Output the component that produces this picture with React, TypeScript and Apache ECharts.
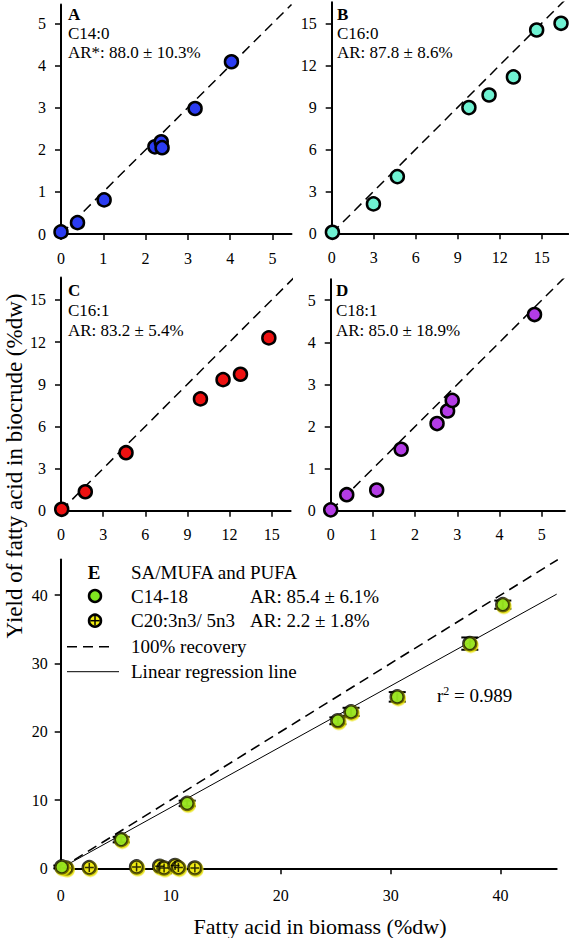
import React, { useEffect, useRef } from "react";
import * as echarts from "echarts";

const FONT = "Liberation Serif";

// Panel A: C14:0
const aBiomass = [0.0, 0.39, 1.02, 2.22, 2.37, 2.39, 3.17, 4.03];
const aBiocrude = [0.05, 0.27, 0.81, 2.07, 2.19, 2.05, 2.98, 4.09];
// Panel B: C16:0
const bBiomass = [0.05, 2.98, 4.69, 9.8, 11.24, 12.98, 14.64, 16.38];
const bBiocrude = [0.07, 2.1, 4.05, 8.98, 9.88, 11.17, 14.52, 15.0];
// Panel C: C16:1
const cBiomass = [0.05, 1.73, 4.63, 9.93, 11.54, 12.78, 14.8];
const cBiocrude = [0.1, 1.35, 4.13, 7.96, 9.33, 9.71, 12.3];
// Panel D: C18:1
const dBiomass = [0.0, 0.38, 1.09, 1.67, 2.52, 2.77, 2.88, 4.83];
const dBiocrude = [0.02, 0.38, 0.49, 1.46, 2.07, 2.37, 2.62, 4.66];
// Panel E: C14-18 (with error)
const eC1418Biomass = [0.1, 5.5, 11.5, 25.2, 26.4, 30.6, 37.2, 40.2];
const eC1418Biocrude = [0.2, 4.2, 9.5, 21.6, 22.9, 25.1, 32.9, 38.6];
const eC1418Err = [0.2, 0.4, 0.4, 0.5, 0.6, 0.7, 0.9, 0.6];
// Panel E: C20:3n3/5n3
const eC20Biomass = [0.5, 2.6, 6.9, 9.0, 9.4, 10.4, 10.7, 12.2];
const eC20Biocrude = [0.05, 0.1, 0.2, 0.3, 0.05, 0.4, 0.1, 0.05];

// Regression line (panel E)
const regSlope = 0.89;
const regIntercept = 0.0;

// Tick labels
const ticks0to5 = [0, 1, 2, 3, 4, 5];
const ticks0to15 = [0, 3, 6, 9, 12, 15];
const ticks0to40 = [0, 10, 20, 30, 40];

// Axis extents
const aMaxX = 5.45, aMaxY = 5.45;
const bMaxX = 16.9, bMaxY = 16.5;
const cMaxX = 16.35, cMaxY = 16.6;
const dMaxX = 5.55, dMaxY = 5.5;
const eMaxX = 45.1, eMaxY = 45.2;

const colA = "#2b3cf2";
const colB = "#6ff2d2";
const colC = "#ee1111";
const colD = "#b43ce6";
const colGreen = "#80e620";
const colYellow = "#f2ee10";

function zip(xs: number[], ys: number[]) {
  return xs.map((x, i) => [x, ys[i]]);
}

function makeAxis(gridIndex: number, max: number, ticks: number[], fontSize: number, margin: number) {
  return {
    gridIndex,
    type: "value",
    min: 0,
    max,
    axisLine: { show: true, onZero: false, lineStyle: { color: "#000", width: 2 } },
    axisTick: { show: true, length: 6, lineStyle: { color: "#000", width: 1.5 }, customValues: ticks },
    axisLabel: { customValues: ticks, color: "#000", fontFamily: FONT, fontSize, margin },
    splitLine: { show: false },
  };
}

function recovery(idx: number, m: number, width = 1.5) {
  return {
    type: "line",
    xAxisIndex: idx,
    yAxisIndex: idx,
    data: [[0, 0], [m, m]],
    symbol: "none",
    clip: true,
    silent: true,
    lineStyle: { color: "#000", width, type: [10, 6] },
    z: 2,
  };
}

function scatter(idx: number, xs: number[], ys: number[], color: string) {
  return {
    type: "scatter",
    xAxisIndex: idx,
    yAxisIndex: idx,
    data: zip(xs, ys),
    symbol: "circle",
    symbolSize: 13,
    itemStyle: { color, borderColor: "#000", borderWidth: 2.5, opacity: 1 },
    z: 5,
  };
}

function txt(x: number, y: number, text: string, size = 17, bold = false, align = "left") {
  const style: any = {
    text,
    fill: "#000",
    fontFamily: FONT,
    fontSize: size,
    align,
    verticalAlign: "middle",
  };
  if (bold) style.fontWeight = "bold";
  return { type: "text", x, y, style, z: 20 };
}

export default function App() {
  const ref = useRef<HTMLDivElement>(null);
  useEffect(() => {
    if (!ref.current) return;
    const chart = echarts.init(ref.current, null, { renderer: "svg" });
    const errData = eC1418Biomass.map((x, i) => [x, eC1418Biocrude[i], eC1418Err[i]]);
    const option: any = {
      animation: false,
      backgroundColor: "#fff",
      textStyle: { fontFamily: FONT },
      grid: [
        { left: 61, top: 4.5, width: 230.5, height: 229.5 },
        { left: 331.7, top: 2.3, width: 236.6, height: 231 },
        { left: 61, top: 277.5, width: 229.6, height: 233.2 },
        { left: 330.7, top: 279.2, width: 234.2, height: 231.5 },
        { left: 60.7, top: 559.6, width: 496, height: 308.7 },
      ],
      xAxis: [
        makeAxis(0, aMaxX, ticks0to5, 16, 16),
        makeAxis(1, bMaxX, ticks0to15, 16, 16),
        makeAxis(2, cMaxX, ticks0to15, 16, 16),
        makeAxis(3, dMaxX, ticks0to5, 16, 16),
        makeAxis(4, eMaxX, ticks0to40, 16, 19),
      ],
      yAxis: [
        makeAxis(0, aMaxY, ticks0to5, 16, 15),
        makeAxis(1, bMaxY, ticks0to15, 16, 15),
        makeAxis(2, cMaxY, ticks0to15, 16, 15),
        makeAxis(3, dMaxY, ticks0to5, 16, 15),
        makeAxis(4, eMaxY, ticks0to40, 16, 13),
      ],
      series: [
        recovery(0, Math.max(aMaxX, aMaxY)),
        scatter(0, aBiomass, aBiocrude, colA),
        recovery(1, Math.max(bMaxX, bMaxY)),
        scatter(1, bBiomass, bBiocrude, colB),
        recovery(2, Math.max(cMaxX, cMaxY)),
        scatter(2, cBiomass, cBiocrude, colC),
        recovery(3, Math.max(dMaxX, dMaxY)),
        scatter(3, dBiomass, dBiocrude, colD),
        recovery(4, Math.max(eMaxX, eMaxY), 1.6),
        {
          type: "line",
          xAxisIndex: 4,
          yAxisIndex: 4,
          data: [[0, regIntercept], [eMaxX, regIntercept + regSlope * eMaxX]],
          symbol: "none",
          clip: true,
          silent: true,
          lineStyle: { color: "#000", width: 1 },
          z: 2,
        },
        {
          type: "custom",
          xAxisIndex: 4,
          yAxisIndex: 4,
          data: errData,
          encode: { x: 0, y: 1 },
          z: 3,
          renderItem: (params: any, api: any) => {
            const x = api.value(0);
            const y = api.value(1);
            const e = api.value(2);
            const top = api.coord([x, y + e]);
            const bot = api.coord([x, y - e]);
            const hw = 8.5;
            const st = { stroke: "#000", lineWidth: 2 };
            return {
              type: "group",
              children: [
                { type: "line", shape: { x1: top[0], y1: top[1], x2: bot[0], y2: bot[1] }, style: st },
                { type: "line", shape: { x1: top[0] - hw, y1: top[1], x2: top[0] + hw, y2: top[1] }, style: st },
                { type: "line", shape: { x1: bot[0] - hw, y1: bot[1], x2: bot[0] + hw, y2: bot[1] }, style: st },
              ],
            };
          },
        },
        {
          type: "scatter",
          xAxisIndex: 4,
          yAxisIndex: 4,
          data: zip(eC20Biomass, eC20Biocrude),
          symbol: "circle",
          symbolSize: 13,
          itemStyle: {
            color: colYellow,
            borderColor: "#000",
            borderWidth: 2.5,
            shadowColor: "#e6e000",
            shadowBlur: 1,
            shadowOffsetX: 1,
            shadowOffsetY: 1.5,
          },
          z: 5,
        },
        {
          type: "scatter",
          xAxisIndex: 4,
          yAxisIndex: 4,
          data: zip(eC20Biomass, eC20Biocrude),
          symbol: "path://M5 0 L5 10 M0 5 L10 5",
          symbolSize: 9,
          itemStyle: { color: "rgba(0,0,0,0)", borderColor: "#000", borderWidth: 1.5 },
          silent: true,
          z: 6,
        },
        {
          type: "scatter",
          xAxisIndex: 4,
          yAxisIndex: 4,
          data: zip(eC1418Biomass, eC1418Biocrude),
          symbol: "circle",
          symbolSize: 13,
          itemStyle: {
            color: colGreen,
            borderColor: "#000",
            borderWidth: 2.5,
            shadowColor: "#e6e000",
            shadowBlur: 1,
            shadowOffsetX: 1,
            shadowOffsetY: 1.5,
          },
          z: 7,
        },
      ],
      graphic: [
        // Panel A
        txt(68, 14, "A", 17, true),
        txt(68, 33, "C14:0"),
        txt(68, 52, "AR*: 88.0 ± 10.3%"),
        // Panel B
        txt(337, 14, "B", 17, true),
        txt(337, 33, "C16:0"),
        txt(337, 52, "AR: 87.8 ± 8.6%"),
        // Panel C
        txt(68, 290, "C", 17, true),
        txt(68, 310, "C16:1"),
        txt(68, 330.5, "AR: 83.2 ± 5.4%"),
        // Panel D
        txt(336, 290, "D", 17, true),
        txt(336, 310, "C18:1"),
        txt(336, 330.5, "AR: 85.0 ± 18.9%"),
        // Panel E legend
        txt(94, 572.7, "E", 19, true, "center"),
        txt(131, 572.7, "SA/MUFA and PUFA", 19),
        {
          type: "circle",
          shape: { cx: 95, cy: 596, r: 6 },
          style: { fill: colGreen, stroke: "#000", lineWidth: 2.5 },
          z: 20,
        },
        txt(131, 596, "C14-18", 19),
        txt(250, 596, "AR: 85.4 ± 6.1%", 19),
        {
          type: "circle",
          shape: { cx: 95, cy: 620.7, r: 6 },
          style: { fill: colYellow, stroke: "#000", lineWidth: 2.5 },
          z: 20,
        },
        { type: "line", shape: { x1: 95, y1: 616, x2: 95, y2: 625.4 }, style: { stroke: "#000", lineWidth: 1.5 }, z: 21 },
        { type: "line", shape: { x1: 90.3, y1: 620.7, x2: 99.7, y2: 620.7 }, style: { stroke: "#000", lineWidth: 1.5 }, z: 21 },
        txt(131, 620.7, "C20:3n3/ 5n3", 19),
        txt(250, 620.7, "AR: 2.2 ± 1.8%", 19),
        {
          type: "line",
          shape: { x1: 67, y1: 646.7, x2: 114, y2: 646.7 },
          style: { stroke: "#000", lineWidth: 1.6, lineDash: [10, 6] },
          z: 20,
        },
        txt(131, 646.7, "100% recovery", 19),
        {
          type: "line",
          shape: { x1: 67, y1: 671.7, x2: 119, y2: 671.7 },
          style: { stroke: "#000", lineWidth: 1 },
          z: 20,
        },
        txt(131, 671.7, "Linear regression line", 19),
        {
          type: "text",
          x: 437,
          y: 694.5,
          style: {
            text: "{a|r}{s|2}{a| = 0.989}",
            fill: "#000",
            fontFamily: FONT,
            fontSize: 19,
            verticalAlign: "middle",
            rich: {
              a: { fontFamily: FONT, fontSize: 19, fill: "#000", verticalAlign: "bottom" },
              s: { fontFamily: FONT, fontSize: 12, fill: "#000", verticalAlign: "top", padding: [0, 0, 8, 0] },
            },
          },
          z: 20,
        },
        // Axis titles
        txt(320, 926, "Fatty acid in biomass (%dw)", 22, false, "center"),
        {
          type: "text",
          x: 14,
          y: 466,
          rotation: Math.PI / 2,
          style: {
            text: "Yield of fatty acid in biocrude (%dw)",
            fill: "#000",
            fontFamily: FONT,
            fontSize: 23,
            align: "center",
            verticalAlign: "middle",
          },
          z: 20,
        },
      ],
    };
    chart.setOption(option);
    return () => chart.dispose();
  }, []);
  return (
    <div
      ref={ref}
      style={{ position: "absolute", left: 0, top: 0, width: 569, height: 938, background: "#fff" }}
    />
  );
}
